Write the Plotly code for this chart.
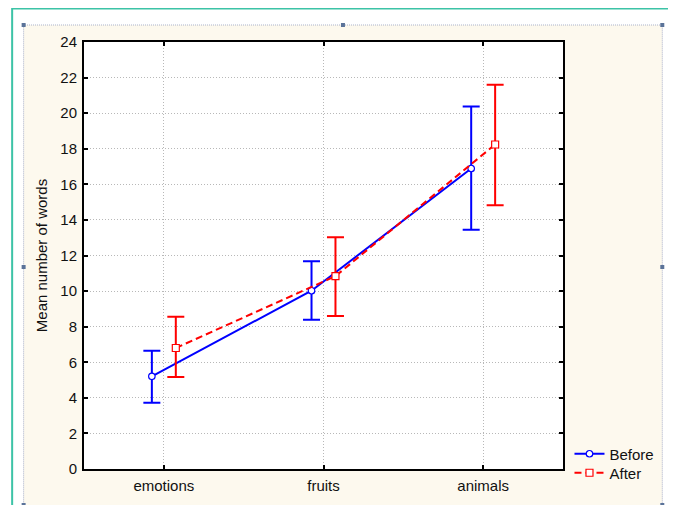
import plotly.graph_objects as go

# ---- data ----
categories = ["emotions", "fruits", "animals"]
before_mean = [5.21, 10.02, 16.89]
before_upper = [6.65, 11.67, 20.38]
before_lower = [3.73, 8.39, 13.45]
after_mean = [6.80, 10.84, 18.24]
after_upper = [8.56, 13.02, 21.60]
after_lower = [5.17, 8.60, 14.83]
y_ticks = list(range(0, 25, 2))

# ---- layout geometry (pixels); page has an 8px body margin ----
PAGE_OFF = 8
W, H = 676 - PAGE_OFF, 505 - PAGE_OFF
L, T = 83.5 - PAGE_OFF, 42 - PAGE_OFF
PW, PH = 480, 427
R, B = W - L - PW, H - T - PH
OFF = 0.075


def px(x):
    return (x - PAGE_OFF - L) / PW


def py(y):
    return (H - B - (y - PAGE_OFF)) / PH


FONT = "Liberation Sans, Arial, sans-serif"

xs = list(range(len(categories)))
fig = go.Figure()

fig.add_trace(go.Scatter(
    x=[i - OFF for i in xs], y=before_mean, name="Before", mode="lines+markers",
    legend="legend",
    line=dict(color="#0000ff", width=2),
    marker=dict(symbol="circle", size=6.5, color="white", line=dict(color="#0000ff", width=1.2)),
    error_y=dict(type="data", symmetric=False,
                 array=[u - m for u, m in zip(before_upper, before_mean)],
                 arrayminus=[m - l for l, m in zip(before_lower, before_mean)],
                 color="#0000ff", thickness=2, width=8.5),
))
fig.add_trace(go.Scatter(
    x=[i + OFF for i in xs], y=after_mean, name="After", mode="lines+markers",
    legend="legend2",
    line=dict(color="#ff0000", width=2, dash="7px,4px"),
    marker=dict(symbol="square", size=7, color="white", line=dict(color="#ff0000", width=1.2)),
    error_y=dict(type="data", symmetric=False,
                 array=[u - m for u, m in zip(after_upper, after_mean)],
                 arrayminus=[m - l for l, m in zip(after_lower, after_mean)],
                 color="#ff0000", thickness=2, width=8.5),
))

shapes = [
    # outer teal frame
    dict(type="rect", xref="paper", yref="paper", layer="below",
         x0=px(11.5), x1=px(672), y0=py(520), y1=py(8.5),
         line=dict(color="#3cc3a6", width=2), fillcolor="white"),
    # cream panel
    dict(type="rect", xref="paper", yref="paper", layer="below",
         x0=px(23), x1=px(663), y0=py(510), y1=py(25),
         line=dict(color="#a8b0c8", width=1, dash="1px,1px"), fillcolor="#fdf9ee"),
    # white plot area
    dict(type="rect", xref="paper", yref="paper", layer="below",
         x0=0, x1=1, y0=0, y1=1, line=dict(width=0), fillcolor="white"),
]
for hx, hy in [(23, 25), (343, 25), (663, 25), (23, 267), (663, 267), (23, 505), (663, 505)]:
    shapes.append(dict(type="rect", xref="paper", yref="paper", layer="below",
                       x0=px(hx - 2), x1=px(hx + 2), y0=py(hy + 2), y1=py(hy - 2),
                       line=dict(width=0), fillcolor="#5b7399"))

legend_common = dict(xanchor="left", yanchor="middle", bgcolor="rgba(0,0,0,0)",
                     font=dict(size=15), itemwidth=30, borderwidth=0)

grid_style = dict(showgrid=True, gridcolor="#b8b8b8", griddash="1px,2px", gridwidth=1)

fig.update_layout(
    width=W, height=H,
    margin=dict(l=L, r=R, t=T, b=B, autoexpand=False),
    paper_bgcolor="white", plot_bgcolor="white",
    font=dict(family=FONT, size=15, color="#111111"),
    shapes=shapes,
    showlegend=True,
    legend=dict(x=px(570), y=py(454), **legend_common),
    legend2=dict(x=px(570), y=py(473), **legend_common),
    xaxis=dict(range=[-0.5, 2.5], tickvals=xs, ticktext=categories,
               showline=True, linecolor="black", linewidth=2, mirror="allticks",
               ticks="inside", ticklen=4, tickcolor="black", tickwidth=1.5,
               zeroline=False, ticklabelstandoff=2, automargin=False, **grid_style),
    yaxis=dict(range=[0, 24], tickvals=y_ticks,
               showline=True, linecolor="black", linewidth=2, mirror="allticks",
               ticks="inside", ticklen=4, tickcolor="black", tickwidth=1.5,
               zeroline=False, ticklabelstandoff=2, automargin=False, **grid_style,
               title=dict(text="Mean number of words", font=dict(size=15), standoff=9)),
)

fig.write_html("out.html")
